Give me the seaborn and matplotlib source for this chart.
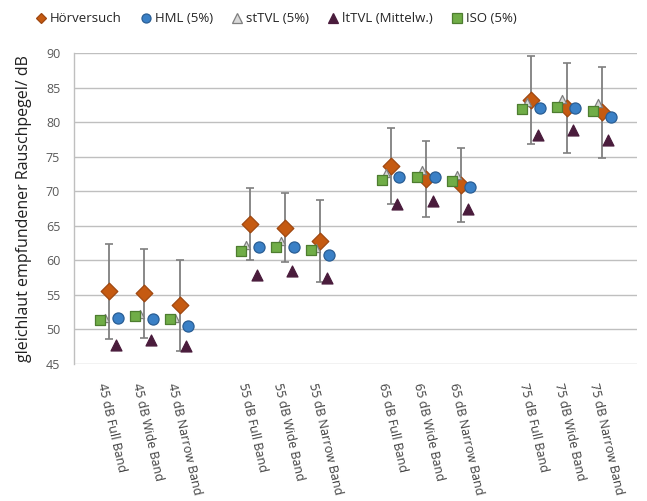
import numpy as np
import pandas as pd
import matplotlib
matplotlib.use("Agg")
import matplotlib.pyplot as plt
import matplotlib.transforms as mtransforms
from matplotlib.lines import Line2D
import seaborn as sns

# Noise conditions (level x band) and the measured / predicted loudness-equivalent levels
levels = ["45 dB", "55 dB", "65 dB", "75 dB"]
bands = ["Full Band", "Wide Band", "Narrow Band"]
labels = [f"{lv} {bd}" for lv in levels for bd in bands]

hoerversuch = [55.5, 55.2, 53.5, 65.3, 64.7, 62.8, 73.7, 71.8, 70.9, 83.2, 82.0, 81.4]
hoerversuch_err = [6.9, 6.4, 6.6, 5.2, 5.0, 6.0, 5.5, 5.5, 5.4, 6.4, 6.5, 6.6]
hml = [51.6, 51.5, 50.5, 61.9, 61.9, 60.7, 72.0, 72.0, 70.6, 82.0, 82.0, 80.8]
sttvl = [51.7, 52.3, 51.7, 62.2, 62.8, 61.8, 72.6, 73.1, 72.3, 82.9, 83.3, 82.7]
lttvl = [47.8, 48.4, 47.6, 57.9, 58.4, 57.4, 68.1, 68.6, 67.4, 78.2, 78.8, 77.4]
iso = [51.4, 51.9, 51.5, 61.3, 61.9, 61.5, 71.6, 72.0, 71.5, 81.9, 82.2, 81.6]

sns.set_theme(style="white")
plt.rcParams["font.family"] = ["Open Sans", "DejaVu Sans"]

# x positions: three bands per level, one empty slot between level groups
pos = np.array([g * 4 + b + 1 for g in range(len(levels)) for b in range(len(bands))], dtype=float)

fig = plt.figure(figsize=(6.47, 5.01), dpi=100)
ax = fig.add_axes([0.1144, 0.2735, 0.9845 - 0.1144, 0.8942 - 0.2735])

# error bars of the listening test
ax.errorbar(pos, hoerversuch, yerr=hoerversuch_err, fmt="none", ecolor="#7F7F7F",
            elinewidth=1.3, capsize=2.6, capthick=1.2, zorder=2)

series = [
    ("Hörversuch", hoerversuch, 0.0, "D", 72, "#C55A11", "#9E4710", 3),
    ("HML (5%)", hml, 0.25, "o", 64, "#3A80C6", "#2A5E94", 4),
    ("stTVL (5%)", sttvl, -0.12, "^", 34, "#D9D9D9", "#7F7F7F", 4),
    ("ltTVL (Mittelw.)", lttvl, 0.19, "^", 62, "#4A1C3C", "#4A1C3C", 5),
    ("ISO (5%)", iso, -0.26, "s", 62, "#70AD47", "#4E7D30", 6),
]

for name, vals, off, mk, size, fc, ec, z in series:
    df = pd.DataFrame({"x": pos + off, "y": vals})
    sns.scatterplot(data=df, x="x", y="y", marker=mk, s=size, color=fc,
                    edgecolor=ec, linewidth=0.9, ax=ax, zorder=z, label=name,
                    legend=False)

ax.set_xlim(0, 16)
ax.set_ylim(45, 90)
ax.set_yticks(np.arange(45, 91, 5))
ax.yaxis.grid(True, color="#BFBFBF", linewidth=1.0)
ax.xaxis.grid(False)
ax.set_axisbelow(True)
for side in ["top", "right", "bottom"]:
    ax.spines[side].set_visible(False)
ax.spines["left"].set_color("#BFBFBF")
ax.spines["left"].set_linewidth(1.0)

# category labels, slanted and hanging below the axis
ax.set_xticks(pos, labels=[""] * len(pos))
ax.tick_params(axis="x", length=0)
label_tf = ax.get_xaxis_transform() + mtransforms.ScaledTranslation(-8 / 100, -19 / 100, fig.dpi_scale_trans)
for x, lab in zip(pos, labels):
    ax.text(x, 0, lab, transform=label_tf, rotation=-77, ha="left", va="center",
            rotation_mode="anchor", fontsize=9, color="#404040")
ax.tick_params(axis="y", length=0, pad=10, labelsize=9, labelcolor="#595959")

ax.set_xlabel("")
ax.set_ylabel("gleichlaut empfundener Rauschpegel/ dB", fontsize=11.5, color="#202020", labelpad=10)

handles = []
for name, vals, off, mk, size, fc, ec, z in series:
    handles.append(Line2D([], [], linestyle="none", marker=mk, markersize=6.5 if mk != "D" else 5.5,
                          markerfacecolor=fc, markeredgecolor=ec, markeredgewidth=0.9, label=name))
fig.legend(handles=handles, loc="center left", bbox_to_anchor=(0.045, 1 - 19 / 501), ncol=5,
           frameon=False, fontsize=9.5, handletextpad=0.2, columnspacing=1.3,
           handlelength=1.0, borderaxespad=0)

fig.savefig("out.png", dpi=100)
